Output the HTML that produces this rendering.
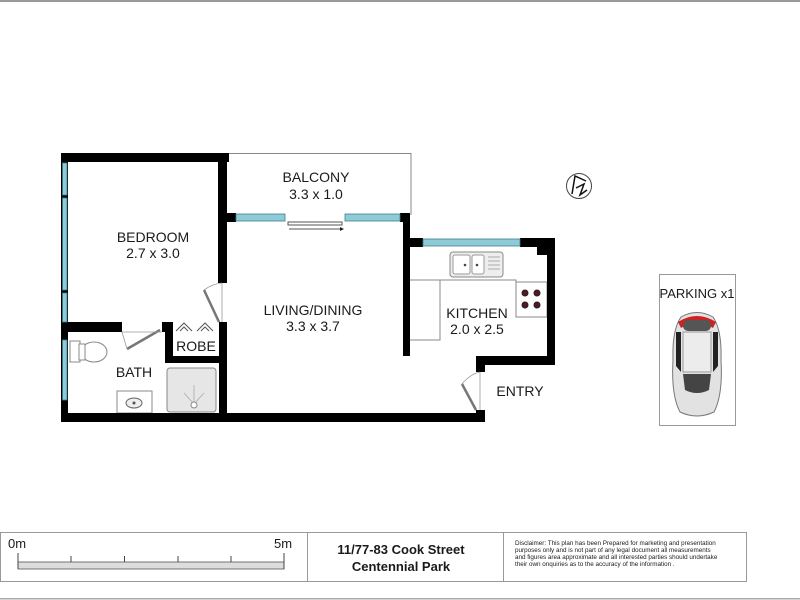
<!DOCTYPE html>
<html><head><meta charset="utf-8"><style>
html,body{margin:0;padding:0;background:#fff;}
svg{display:block;}
text{font-family:"Liberation Sans",sans-serif;fill:#1a1a1a;}
</style></head><body>
<svg width="800" height="600" viewBox="0 0 800 600" xmlns="http://www.w3.org/2000/svg">
<rect x="0" y="0" width="800" height="2" fill="#999"/>
<path d="M229 153.5 H411 V215" fill="none" stroke="#888" stroke-width="1"/>
<rect x="167" y="368" width="49" height="44" rx="3" fill="#e6e6e6" stroke="#888"/>
<g stroke="#aaa" stroke-width="0.8"><line x1="194" y1="404" x2="194" y2="385"/><line x1="194" y1="404" x2="184" y2="393"/><line x1="194" y1="404" x2="204" y2="393"/></g>
<circle cx="194" cy="405" r="3" fill="#fff" stroke="#888"/>
<rect x="117" y="391" width="35" height="22" fill="#fff" stroke="#888"/>
<ellipse cx="134" cy="403" rx="8" ry="5" fill="#eee" stroke="#666"/>
<circle cx="134" cy="403" r="1.5" fill="#555"/>
<rect x="70" y="341" width="10" height="21" fill="#fff" stroke="#888"/>
<ellipse cx="94" cy="352" rx="13" ry="10" fill="#fff" stroke="#888"/>
<rect x="79" y="344" width="6" height="16" fill="#fff" stroke="#888"/>
<path d="M410 280 H440 V340 H410" fill="none" stroke="#888"/>
<path d="M440 280 H516 V317 H547" fill="none" stroke="#888"/>
<rect x="516" y="282" width="31" height="35" fill="#fff" stroke="#888"/>
<g fill="#5a1620" stroke="#222" stroke-width="1"><circle cx="525" cy="293" r="3"/><circle cx="537" cy="293" r="3"/><circle cx="525" cy="305" r="3"/><circle cx="537" cy="305" r="3"/></g>
<rect x="450" y="252" width="53" height="25" rx="3" fill="#eee" stroke="#888"/>
<rect x="453" y="255" width="17" height="19" rx="2" fill="#fff" stroke="#999"/>
<rect x="472" y="255" width="12" height="19" rx="2" fill="#fff" stroke="#999"/>
<circle cx="465" cy="265" r="1.3" fill="#444"/><circle cx="477" cy="265" r="1.3" fill="#444"/>
<g stroke="#aaa"><line x1="488" y1="257" x2="500" y2="257"/><line x1="488" y1="261" x2="500" y2="261"/><line x1="488" y1="265" x2="500" y2="265"/><line x1="488" y1="269" x2="500" y2="269"/></g>
<g fill="#000">
<rect x="61" y="153" width="168" height="9"/>
<rect x="61" y="153" width="7" height="269"/>
<rect x="218" y="153" width="9" height="130"/>
<rect x="219" y="322" width="8" height="100"/>
<rect x="61" y="322" width="61" height="10"/>
<rect x="162" y="322" width="11" height="10"/>
<rect x="165" y="322" width="8" height="40"/>
<rect x="165" y="356" width="62" height="7"/>
<rect x="61" y="413" width="424" height="9"/>
<rect x="226" y="213" width="10" height="9"/>
<rect x="400" y="213" width="10" height="9"/>
<rect x="403" y="213" width="7" height="143"/>
<rect x="403" y="238" width="20" height="9"/>
<rect x="520" y="238" width="35" height="9"/>
<rect x="537" y="238" width="18" height="17"/>
<rect x="547" y="238" width="8" height="127"/>
<rect x="476" y="356" width="79" height="9"/>
<rect x="476" y="356" width="9" height="16"/>
<rect x="476" y="410" width="9" height="12"/>
</g>
<g fill="#8fcbd6" stroke="#3a7f8c" stroke-width="0.8">
<rect x="62.5" y="163" width="4.5" height="32"/>
<rect x="62.5" y="198" width="4.5" height="92"/>
<rect x="62.5" y="293" width="4.5" height="29"/>
<rect x="62.5" y="340" width="4.5" height="60"/>
<rect x="236" y="214" width="49" height="7"/>
<rect x="345" y="214" width="55" height="7"/>
<rect x="423" y="239" width="97" height="7"/>
</g>
<rect x="288" y="222" width="54" height="3" fill="#fff" stroke="#555"/>
<line x1="289" y1="229" x2="340" y2="229" stroke="#555"/>
<path d="M340 227 L344 229 L340 231Z" fill="#222"/>
<g stroke="#777" stroke-width="2.5" fill="none">
<line x1="219" y1="322" x2="204" y2="290"/>
<line x1="160" y1="330" x2="127" y2="349"/>
<line x1="476" y1="410" x2="462" y2="384"/>
</g>
<g stroke="#999" stroke-width="0.8" fill="none">
<path d="M204 290 Q212 284 222 283"/><line x1="222" y1="283" x2="222" y2="322"/>
<path d="M127 349 L122 332"/><line x1="122" y1="332" x2="162" y2="332"/>
<path d="M462 384 Q470 374 480 372"/><line x1="480" y1="372" x2="480" y2="410"/>
</g>
<g stroke="#555" fill="none" stroke-width="1"><path d="M176 331 L184 323 L192 331 M180 331 L184 327 L188 331"/><path d="M197 331 L205 323 L213 331 M201 331 L205 327 L209 331"/></g>
<g font-size="14" text-anchor="middle">
<text x="316" y="182">BALCONY</text><text x="316" y="199">3.3 x 1.0</text>
<text x="153" y="242">BEDROOM</text><text x="153" y="258">2.7 x 3.0</text>
<text x="313" y="315">LIVING/DINING</text><text x="313" y="331">3.3 x 3.7</text>
<text x="477" y="318">KITCHEN</text><text x="477" y="334">2.0 x 2.5</text>
<text x="520" y="396">ENTRY</text>
<text x="196" y="351">ROBE</text>
<text x="134" y="377">BATH</text>
</g>
<circle cx="579" cy="186" r="12.5" fill="#fff" stroke="#444"/>
<path d="M572 194 L575 176 L586 181 M576 188 L584 184 L580 195 L587 190" fill="none" stroke="#111" stroke-width="1.5"/>
<rect x="659.5" y="274.5" width="76" height="151" fill="#fff" stroke="#999"/>
<text x="697" y="298" font-size="13" text-anchor="middle">PARKING x1</text>
<path d="M681 317 Q697 308 713 317 Q722 330 721 360 Q723 395 714 412 Q697 420 680 412 Q671 395 673 360 Q672 330 681 317Z" fill="#e2e2e2" stroke="#777"/>
<path d="M678 322 Q697 310 716 322 L713 328 Q697 318 681 328Z" fill="#c22"/>
<rect x="683" y="320" width="28" height="11" rx="5" fill="#555"/>
<rect x="683" y="332" width="28" height="40" fill="#ececec" stroke="#999"/>
<path d="M683 374 H711 L709 390 Q697 396 685 390Z" fill="#444"/>
<path d="M676 332 L681 332 L681 372 L676 366Z M718 332 L713 332 L713 372 L718 366Z" fill="#222"/>
<!-- footer -->
<rect x="0.5" y="532.5" width="746" height="49" fill="#fff" stroke="#999"/>
<line x1="307.5" y1="532" x2="307.5" y2="582" stroke="#999"/>
<line x1="503.5" y1="532" x2="503.5" y2="582" stroke="#999"/>
<rect x="0" y="598" width="800" height="1.5" fill="#aaa"/>
<text x="8" y="548" font-size="13">0m</text>
<text x="274" y="548" font-size="13">5m</text>
<rect x="18" y="562" width="266" height="7" fill="#ddd" stroke="#555" stroke-width="0.8"/>
<g stroke="#444"><line x1="18" y1="553" x2="18" y2="569"/><line x1="71" y1="556" x2="71" y2="562"/><line x1="124.5" y1="556" x2="124.5" y2="562"/><line x1="178" y1="556" x2="178" y2="562"/><line x1="231" y1="556" x2="231" y2="562"/><line x1="284" y1="553" x2="284" y2="569"/></g>
<text x="401" y="554" font-size="13" font-weight="bold" text-anchor="middle">11/77-83 Cook Street</text>
<text x="401" y="571" font-size="13" font-weight="bold" text-anchor="middle">Centennial Park</text>
<g font-size="6.3"><text x="515" y="545">Disclaimer:  This plan has been Prepared for marketing and presentation</text>
<text x="515" y="552">purposes  only  and is not part  of any legal document  all measurements</text>
<text x="515" y="559">and figures area approximate and all interested parties should undertake</text>
<text x="515" y="566">their own onquiries as to the accuracy of the information .</text></g>
</svg>
</body></html>
